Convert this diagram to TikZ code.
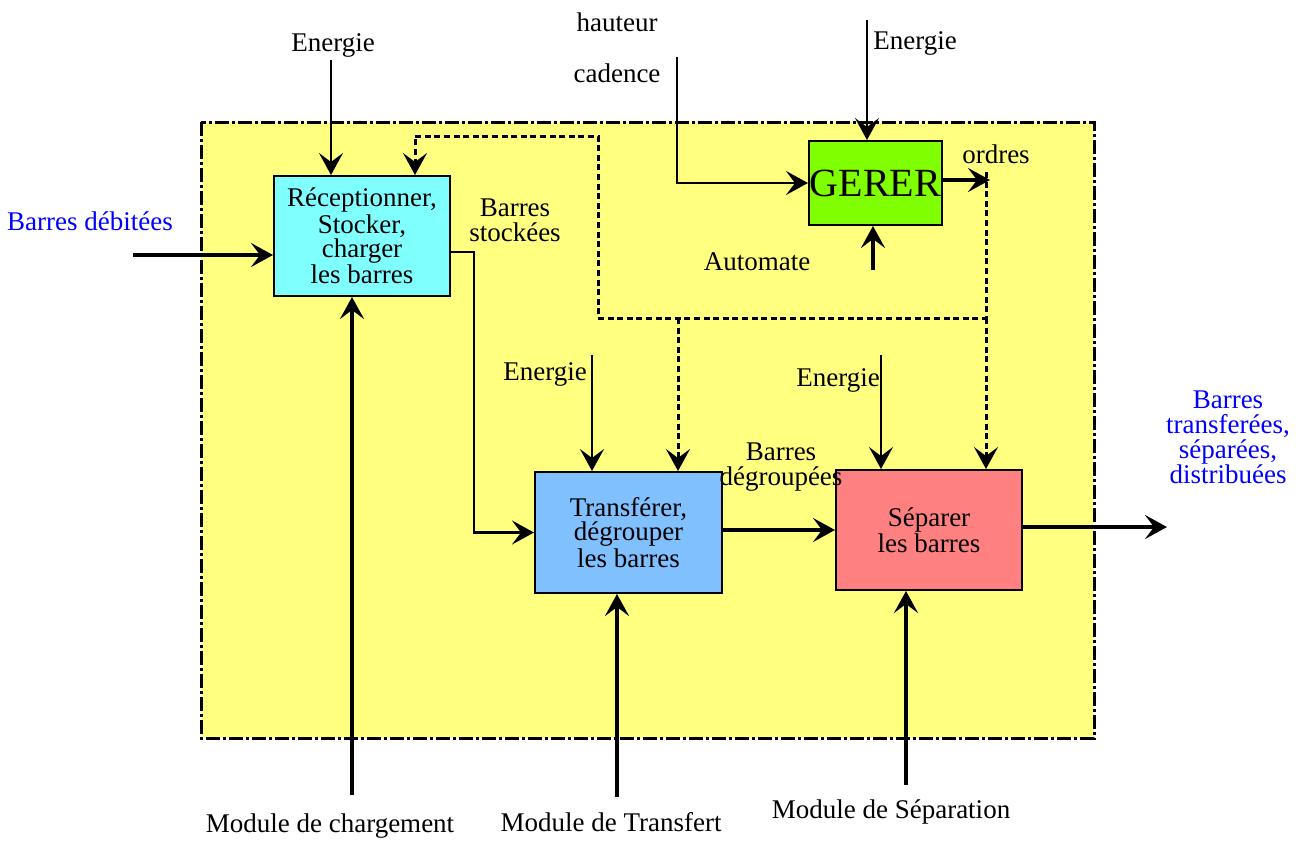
\documentclass[tikz,border=0pt]{standalone}
\usepackage{fontspec}
\setmainfont{Liberation Serif}
\usetikzlibrary{arrows.meta}

\definecolor{fond}{RGB}{255,255,128}
\definecolor{cyanbox}{RGB}{128,255,255}
\definecolor{vertbox}{RGB}{128,255,0}
\definecolor{bleubox}{RGB}{128,192,255}
\definecolor{rosebox}{RGB}{255,128,128}
\definecolor{bleutxt}{RGB}{0,0,255}

\tikzset{
	fonction/.style = {draw = black, line width = 1pt, inner sep = 0pt, align = center, font = \fontsize{13.5}{12}\selectfont},
	etiq/.style = {inner sep = 0pt, align = center, font = \fontsize{13.5}{12.5}\selectfont},
	pointe/.style = {-{Stealth[length = 11pt 0 0, width = 12pt 0 0, inset = 4.5pt 0]}},
	flux/.style = {line width = 1.6pt, pointe},
	fin/.style = {line width = 1.1pt, pointe},
	ordre/.style = {line width = 1.5pt, dash pattern = on 3pt off 1.8pt, pointe}
}

\begin{document}
\begin{tikzpicture}[x = 0.5pt, y = -0.5pt]

	\useasboundingbox (0, 0) rectangle (1308, 842);

	% Systeme
	
	\draw [fill = fond, line width = 1.5pt, dash pattern = on 7pt off 1.5pt on 1.5pt off 1.5pt] (201, 122) rectangle (1094, 738);
	
	% Fonctions
	
	\node [fonction, fill = cyanbox, minimum width = 88pt, minimum height = 60pt] (recep) at (362, 236) {R\'eceptionner,\\Stocker,\\charger\\les barres};
	\node [fonction, fill = vertbox, minimum width = 66.5pt, minimum height = 42pt, font = \fontsize{20}{20}\selectfont] (gerer) at (875.5, 183) {GERER};
	\node [fonction, fill = bleubox, minimum width = 93.5pt, minimum height = 60.5pt] (transf) at (628.5, 532.5) {Transf\'erer,\\d\'egrouper\\les barres};
	\node [fonction, fill = rosebox, minimum width = 93pt, minimum height = 60pt] (separ) at (929, 530) {S\'eparer\\les barres};
	
	% Points libres
	
	\coordinate (enR) at (331, 60);
	\coordinate (enG) at (867, 20);
	\coordinate (enT) at (592, 355);
	\coordinate (enS) at (881, 355);
	\coordinate (deb) at (133, 255);
	\coordinate (sortie) at (1167, 527);
	\coordinate (modR) at (352, 795);
	\coordinate (modT) at (617, 797);
	\coordinate (modS) at (906, 785);
	\coordinate (haut) at (677, 57);
	\coordinate (auto) at (873, 270);
	\coordinate (ord) at (990, 180);
	\coordinate (sto) at (474, 252);
	\coordinate (busR) at (986, 318);
	\coordinate (busM) at (678, 318);
	\coordinate (busL) at (598, 318);
	\coordinate (retour) at (598, 136);
	\coordinate (retourR) at (415, 136);
	
	% Flux de matiere
	
	\draw [flux] (deb) -- (deb -| recep.west);
	\draw [fin] (recep.east |- sto) -- (sto) -- (sto |- transf.west) -- (transf.west);
	\draw [flux] (transf.east |- separ.west) -- (separ.west);
	\draw [flux] (separ.east |- sortie) -- (sortie);
	
	% Energie
	
	\draw [fin] (enR) -- (enR |- recep.north);
	\draw [fin] (enG) -- (enG |- gerer.north);
	\draw [fin] (enT) -- (enT |- transf.north);
	\draw [fin] (enS) -- (enS |- separ.north);
	
	% Supports
	
	\draw [flux] (modR) -- (modR |- recep.south);
	\draw [flux] (modT) -- (modT |- transf.south);
	\draw [flux] (modS) -- (modS |- separ.south);
	\draw [flux] (auto) -- (auto |- gerer.south);
	
	% Commande
	
	\draw [fin] (haut) -- (haut |- gerer.west) -- (gerer.west);
	\draw [flux] (gerer.east |- ord) -- (ord);
	\draw [ordre] ([yshift = 4pt] ord -| busR) -- (busR) -- (busL) -- (retour) -- (retourR) -- (retourR |- recep.north);
	\draw [ordre] (busM) -- (busM |- transf.north);
	\draw [ordre] (busR) -- (busR |- separ.north);
	
	% Etiquettes
	
	\node [etiq] (lenR) at (333, 45) {Energie};
	\node [etiq] (lenG) at (915, 43) {Energie};
	\node [etiq] (lenT) at (545, 374) {Energie};
	\node [etiq] (lenS) at (838, 380) {Energie};
	\node [etiq, text = bleutxt] (ldeb) at (90, 221) {Barres d\'ebit\'ees};
	\node [etiq] (lsto) at (515, 220) {Barres\\stock\'ees};
	\node [etiq] (ldeg) at (781, 467) {Barres\\d\'egroup\'ees};
	\node [etiq, text = bleutxt] (lsortie) at (1228, 437) {Barres\\transfer\'ees,\\s\'epar\'ees,\\distribu\'ees};
	\node [etiq] (lhaut) at (617, 22) {hauteur};
	\node [etiq] (lcad) at (617, 73) {cadence};
	\node [etiq] (lord) at (996, 154) {ordres};
	\node [etiq] (lauto) at (757, 262) {Automate};
	\node [etiq] (lmodR) at (330, 826) {Module de chargement};
	\node [etiq] (lmodT) at (611, 822) {Module de Transfert};
	\node [etiq] (lmodS) at (891, 812) {Module de S\'eparation};

\end{tikzpicture}
\end{document}
